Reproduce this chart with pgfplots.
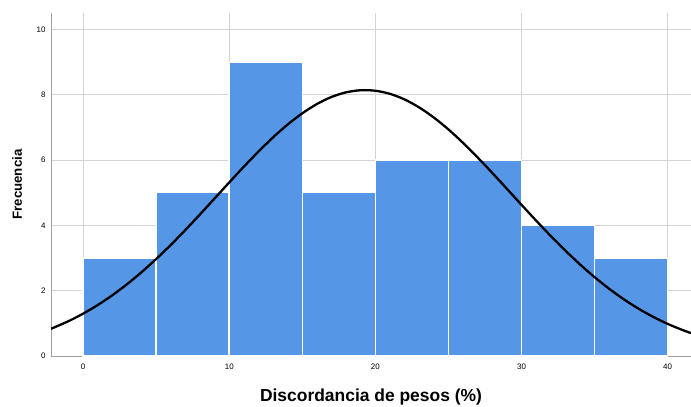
\documentclass[border=0pt]{standalone}
\usepackage{fontspec}
\setmainfont{Liberation Sans}
\usepackage{pgfplots}
\pgfplotsset{compat=1.18}
\definecolor{barblue}{RGB}{86,150,230}
\definecolor{gridgray}{RGB}{212,212,212}
\definecolor{spinegray}{RGB}{160,160,160}
\begin{document}
\begin{tikzpicture}
\path[use as bounding box] (-51bp,-51bp) rectangle (640bp,356bp);
\begin{axis}[
  at={(0,0)}, anchor=south west,
  width=640bp, height=343bp, scale only axis,
  xmin=-2.2, xmax=41.6, ymin=0, ymax=10.5,
  axis x line=bottom, axis y line=left,
  axis line style={-, draw=spinegray, line width=0.8bp},
  xtick={0,10,20,30,40}, ytick={0,2,4,6,8,10},
  major tick length=0pt,
  grid=major, major grid style={draw=gridgray, line width=0.9bp},
  /pgf/number format/assume math mode=true,
  ticklabel style={font=\fontsize{8}{9}\selectfont},
  xticklabel style={yshift=-4bp},
  yticklabel style={xshift=-2bp},
  xlabel={\textbf{Discordancia de pesos (\%)}},
  ylabel={\textbf{Frecuencia}},
  xlabel style={font=\fontsize{17.5}{20}\selectfont, at={(axis description cs:0.5,-0.12)}, anchor=center},
  ylabel style={font=\fontsize{13.3}{15}\selectfont, at={(axis description cs:-0.053,0.5)}, anchor=center},
  clip=true,
]
\addplot[ybar interval, fill=barblue, draw=white, line width=1.6bp] coordinates {
(0,3) (5,5) (10,9) (15,5) (20,6) (25,6) (30,4) (35,3) (40,3)};
\addplot[black, line width=2.3bp, smooth] coordinates {
(-2.2,0.833) (-1,1.067) (0,1.297) (1,1.561) (2,1.861) (3,2.196) (4,2.567) (5,2.970)
(6,3.402) (7,3.860) (8,4.337) (9,4.825) (10,5.314) (11,5.796) (12,6.259) (13,6.694)
(14,7.088) (15,7.430) (16,7.714) (17,7.930) (18,8.072) (19,8.136) (20,8.120) (21,8.025)
(22,7.853) (23,7.608) (24,7.300) (25,6.935) (26,6.524) (27,6.076) (28,5.604) (29,5.118)
(30,4.628) (31,4.145) (32,3.675) (33,3.226) (34,2.805) (35,2.414) (36,2.058) (37,1.736)
(38,1.451) (39,1.201) (40,0.984) (41,0.799) (41.6,0.701)};
\end{axis}
\end{tikzpicture}
\end{document}
